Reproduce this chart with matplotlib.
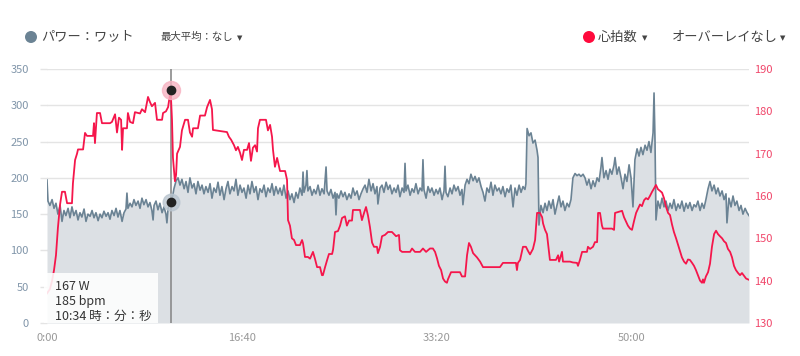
import matplotlib
matplotlib.use('Agg')
import matplotlib.pyplot as plt
from matplotlib.patches import Rectangle, Ellipse

plt.rcParams['font.family'] = ['Noto Sans CJK JP', 'DejaVu Sans']

# ==================== data (seconds / watts / bpm) ====================
power_t = [0, 5, 15, 26, 36, 46, 56, 67, 77, 87, 97, 108, 118, 128, 138, 149, 159, 169, 179, 190,
           200, 210, 221, 231, 241, 251, 262, 272, 282, 292, 303, 313, 323, 333, 344, 354, 364, 374, 385, 395,
           405, 410, 415, 426, 436, 446, 456, 467, 477, 487, 497, 508, 518, 528, 538, 544, 549, 559, 569, 579,
           590, 600, 610, 615, 621, 634, 641, 651, 662, 672, 682, 692, 703, 713, 723, 733, 744, 754, 764, 774,
           785, 795, 805, 815, 826, 836, 846, 856, 867, 877, 887, 897, 908, 918, 928, 938, 949, 959, 969, 979,
           990, 1000, 1010, 1021, 1031, 1041, 1051, 1062, 1072, 1082, 1092, 1103, 1113, 1123, 1133, 1144, 1154,
           1164, 1174, 1185, 1195, 1205, 1215, 1226, 1236, 1246, 1256, 1267, 1277, 1287, 1297, 1308, 1313, 1318,
           1328, 1333, 1338, 1349, 1359, 1369, 1379, 1390, 1400, 1410, 1421, 1431, 1436, 1446, 1456, 1467, 1477,
           1482, 1487, 1497, 1508, 1518, 1528, 1538, 1549, 1559, 1569, 1579, 1590, 1600, 1610, 1621, 1631, 1641,
           1651, 1662, 1672, 1682, 1692, 1697, 1708, 1718, 1728, 1739, 1749, 1759, 1769, 1780, 1790, 1800, 1810,
           1821, 1831, 1836, 1841, 1851, 1862, 1872, 1882, 1892, 1903, 1913, 1923, 1928, 1933, 1944, 1954, 1964,
           1974, 1985, 1995, 2005, 2015, 2026, 2036, 2041, 2046, 2056, 2067, 2077, 2087, 2097, 2108, 2118, 2128,
           2133, 2144, 2154, 2164, 2174, 2185, 2195, 2205, 2215, 2226, 2236, 2246, 2256, 2267, 2277, 2287, 2297,
           2308, 2318, 2328, 2338, 2349, 2359, 2369, 2379, 2390, 2400, 2410, 2421, 2431, 2441, 2451, 2456, 2462,
           2472, 2482, 2492, 2503, 2513, 2518, 2523, 2533, 2544, 2554, 2564, 2574, 2585, 2595, 2605, 2615, 2626,
           2636, 2646, 2656, 2667, 2677, 2687, 2697, 2708, 2718, 2728, 2738, 2749, 2759, 2769, 2779, 2790, 2800,
           2810, 2821, 2831, 2841, 2846, 2856, 2867, 2877, 2887, 2897, 2908, 2913, 2923, 2933, 2944, 2954, 2964,
           2974, 2985, 2995, 3005, 3015, 3026, 3036, 3046, 3056, 3067, 3077, 3087, 3097, 3108, 3113, 3118, 3123,
           3133, 3144, 3154, 3164, 3174, 3185, 3195, 3205, 3215, 3226, 3236, 3246, 3256, 3267, 3277, 3287, 3297,
           3308, 3318, 3328, 3338, 3349, 3359, 3369, 3379, 3390, 3400, 3410, 3421, 3431, 3441, 3451, 3462, 3472,
           3482, 3487, 3497, 3508, 3518, 3528, 3538, 3549, 3559, 3569, 3580, 3590, 3600]
power_w = [197, 168, 162, 170, 158, 165, 150, 162, 140, 155, 148, 158, 145, 160, 148, 155, 142, 152, 146, 157,
           140, 150, 147, 155, 145, 152, 141, 150, 145, 154, 147, 152, 143, 155, 148, 158, 146, 155, 140, 152,
           157, 179, 158, 165, 160, 170, 162, 168, 158, 172, 163, 170, 160, 166, 155, 142, 162, 168, 156, 165,
           152, 160, 150, 138, 158, 167, 170, 185, 196, 200, 190, 198, 185, 195, 180, 200, 186, 192, 178, 195,
           183, 190, 178, 188, 180, 192, 172, 186, 180, 194, 176, 188, 170, 185, 195, 178, 188, 182, 198, 176,
           190, 180, 186, 172, 190, 178, 195, 180, 188, 170, 185, 180, 190, 174, 186, 180, 192,
           176, 188, 178, 186, 176, 190, 172, 182, 170, 178, 166, 180, 172, 186, 176, 208, 180,
           190, 210, 182, 188, 176, 184, 178, 190, 176, 185, 178, 215, 182, 176, 184, 172, 180,
           149, 178, 172, 182, 174, 180, 170, 178, 172, 186, 176, 182, 170, 178, 185, 190, 180,
           198, 182, 192, 178, 188, 164, 186, 190, 180, 194, 184, 190, 178, 186, 180, 190, 174,
           186, 180, 220, 182, 190, 176, 185, 180, 192, 178, 186, 182, 225, 184, 172, 188, 180,
           186, 176, 184, 178, 186, 170, 182, 216, 180, 174, 186, 178, 190, 182, 188, 176, 184,
           163, 190, 198, 192, 205, 196, 202, 194, 200, 188, 180, 168, 186, 180, 194, 176, 190,
           182, 186, 178, 188, 174, 185, 180, 190, 160, 186, 176, 190, 180, 188, 184, 192, 268,
           258, 262, 248, 252, 238, 228, 135, 162, 152, 165, 155, 168, 158, 170, 150, 162, 175,
           160, 168, 155, 165, 160, 170, 200, 206, 203, 205, 202, 205, 200, 190, 198, 185, 196,
           188, 200, 195, 215, 228, 200, 210, 198, 212, 205, 218, 228, 205, 215, 200, 185, 205,
           195, 218, 200, 160, 225, 240, 230, 242, 232, 245, 238, 250, 235, 262, 317, 250, 142,
           168, 158, 172, 160, 168, 155, 165, 158, 170, 155, 164, 158, 168, 154, 165, 158, 166,
           155, 163, 160, 168, 155, 165, 158, 170, 185, 195, 182, 190, 178, 186, 175, 182, 170,
           178, 138, 172, 160, 175, 162, 168, 155, 162, 150, 158, 152, 148]

hr_t = [0, 15, 26, 36, 46, 56, 67, 77, 92, 103, 128, 133, 144, 154, 159, 185, 195, 205, 236, 241,
        246, 256, 272, 282, 323, 333, 349, 359, 369, 380, 385, 390, 410, 415, 426, 441, 451, 477, 487, 503,
        518, 528, 538, 554, 564, 590, 595, 610, 621, 634, 641, 646, 656, 662, 667, 682, 692, 708, 723, 733,
        744, 749, 774, 785, 810, 821, 836, 846, 851, 923, 933, 944, 959, 969, 979, 990, 1000, 1010, 1026, 1036,
        1046, 1056, 1067, 1077, 1082, 1092, 1123, 1133, 1144, 1154, 1159, 1169, 1180, 1190, 1195, 1221, 1231,
        1236, 1246, 1256, 1267, 1277, 1297, 1308, 1313, 1323, 1338, 1349, 1364, 1374, 1385, 1400, 1410, 1415,
        1426, 1436, 1446, 1462, 1467, 1477, 1492, 1503, 1513, 1528, 1538, 1549, 1564, 1569, 1605, 1615, 1626,
        1636, 1646, 1656, 1667, 1677, 1692, 1697, 1708, 1718, 1733, 1749, 1769, 1790, 1805, 1810, 1821, 1862,
        1872, 1887, 1913, 1928, 1944, 1964, 1979, 1990, 2000, 2010, 2021, 2031, 2041, 2051, 2056, 2072, 2118,
        2128, 2144, 2154, 2164, 2174, 2185, 2195, 2205, 2221, 2236, 2323, 2338, 2405, 2410, 2415, 2426, 2441,
        2456, 2467, 2477, 2492, 2503, 2513, 2528, 2539, 2544, 2554, 2564, 2569, 2579, 2610, 2621, 2626, 2641,
        2646, 2682, 2697, 2718, 2723, 2733, 2744, 2769, 2774, 2785, 2800, 2810, 2821, 2826, 2836, 2846, 2851,
        2897, 2908, 2913, 2949, 2959, 2969, 2979, 2990, 3000, 3010, 3021, 3031, 3041, 3051, 3062, 3072, 3082,
        3092, 3103, 3113, 3123, 3133, 3144, 3154, 3164, 3174, 3185, 3195, 3205, 3215, 3226, 3236, 3246, 3256,
        3267, 3277, 3287, 3297, 3308, 3318, 3328, 3338, 3349, 3359, 3364, 3369, 3379, 3390, 3400, 3410, 3421,
        3431, 3441, 3451, 3462, 3472, 3482, 3492, 3503, 3513, 3523, 3533, 3544, 3554, 3564, 3574, 3585, 3600]
hr_bpm = [137, 138, 140, 142.5, 146, 152.5, 158, 161, 161, 158.3, 158.3, 163, 168.5, 170, 171, 171, 174.9,
          174.2, 174.2, 177.2, 172.5, 179.6, 179.6, 177.2, 177.2, 177.5, 179.3, 175, 178.5, 178, 170.9, 176,
          176, 179.6, 177.5, 177.2, 179.8, 179.5, 180.5, 179.8, 183.4, 182.2, 181.2, 182, 178, 178, 179.6, 180,
          181, 185, 178, 169, 163.5, 165, 170, 171.6, 175.5, 178, 178, 175, 174, 176, 176, 179, 179, 181,
          182.7, 180.5, 175.6, 175.1, 174, 173.3, 172, 170.8, 171.6, 170.2, 168.5, 170.9, 170.9, 172.5, 168.3,
          171.4, 172, 170.5, 176, 178, 178, 175.5, 176.8, 174, 170.9, 166.9, 169, 166.9, 165.9, 165.9, 163.8,
          154.3, 153, 150, 149.6, 148.4, 148.4, 149.6, 148.8, 145.6, 145.6, 145.2, 146.8, 145.2, 143.2, 143.2,
          141.3, 141.3, 143.2, 144.8, 146.3, 146.3, 147.3, 151.5, 151.7, 153, 154.8, 155.2, 153, 154.2, 154.2,
          156.7, 156.7, 154.3, 156, 157.4, 155.4, 152.7, 149, 148, 148, 146.5, 148, 150.5, 150.8, 151.5, 151.5,
          150.5, 150.8, 147.2, 146.8, 146.8, 147.6, 146.8, 146.8, 147.6, 146.8, 147.6, 147.6, 146.8, 145.3,
          143.5, 142.5, 140.5, 139.8, 139.5, 140.3, 142, 142, 141, 141, 146, 148.9, 148, 146.5, 146, 145.5,
          144.5, 143.2, 143.2, 144.2, 144.2, 142.5, 144.2, 144.9, 148, 148, 147, 146.2, 147.5, 149.6, 156, 156,
          155, 153.5, 152, 151, 148.9, 144.9, 144.9, 146, 144.5, 146.8, 144.5, 144.5, 144.3, 144.2, 143.5,
          144.9, 146.8, 146.8, 148, 147.5, 148, 149.1, 149.1, 156, 156, 153, 152.3, 152.3, 152, 156, 156.5,
          155, 154, 153, 152.3, 152, 154, 156, 157, 158, 157.6, 159, 159.5, 159.2, 160, 161, 161.8, 162.6,
          161.6, 161.2, 160.8, 159.5, 157.5, 156, 155.5, 153.3, 151.5, 150, 148.5, 147, 145.5, 144.5, 144, 145,
          144.9, 144.2, 143.5, 142.5, 141.3, 140, 139.5, 140.3, 139.5, 141, 142, 144, 148, 151, 151.8, 151,
          150.5, 150, 149.3, 148.9, 147.5, 146.8, 145.5, 143.5, 142.5, 141.8, 141.3, 141.8, 141.2, 140.5, 140.2]

cursor_t = 634
cursor_w = 167
cursor_bpm = 185

x_ticks = [0, 1000, 2000, 3000]
x_labels = ['0:00', '16:40', '33:20', '50:00']
power_ticks = [0, 50, 100, 150, 200, 250, 300, 350]
hr_ticks = [130, 140, 150, 160, 170, 180, 190]

COLOR_POWER = '#6b8394'
COLOR_FILL = '#dce0e4'
COLOR_HR = '#f5164b'
COLOR_HR_DOT = '#ff0a3c'
COLOR_GRID = '#e4e4e4'
COLOR_TEXT = '#444444'

W, H = 800, 356
fig = plt.figure(figsize=(8, 3.56), dpi=100)
ax = fig.add_axes([47 / W, 1 - 323 / H, 702 / W, 254 / H])

# power series (filled area)
ax.fill_between(power_t, power_w, 0, color=COLOR_FILL, linewidth=0, zorder=1)
ax.plot(power_t, power_w, color=COLOR_POWER, linewidth=1.2, zorder=2)
ax.set_xlim(0, 3600)
ax.set_ylim(0, 350)
ax.set_yticks(power_ticks)
ax.set_xticks(x_ticks)
ax.set_xticklabels(x_labels)
ax.grid(True, axis='y', color=COLOR_GRID, linewidth=1)
ax.set_axisbelow(True)
for s in ax.spines.values():
    s.set_visible(False)
ax.tick_params(axis='y', length=5, color=COLOR_GRID, width=1, pad=8, labelsize=8, labelcolor='#8095a9')
ax.tick_params(axis='x', length=0, pad=7, labelsize=8, labelcolor='#999999')

# cursor line
ax.axvline(cursor_t, color='#8a8a8a', linewidth=1.2, zorder=3)

# heart-rate series on right axis
ax2 = ax.twinx()
ax2.plot(hr_t, hr_bpm, color=COLOR_HR, linewidth=1.3, zorder=2)
ax2.set_ylim(130, 190)
ax2.set_xlim(0, 3600)
ax2.set_yticks(hr_ticks)
for s in ax2.spines.values():
    s.set_visible(False)
ax2.tick_params(axis='y', length=0, pad=4, labelsize=8, labelcolor='#f0466a')

# hover markers
ax2.plot([cursor_t], [cursor_bpm], 'o', markersize=13, color='#f7b3c2', alpha=0.8, zorder=4, clip_on=False)
ax2.plot([cursor_t], [cursor_bpm], 'o', markersize=6, color='#222222', zorder=5, clip_on=False)
ax.plot([cursor_t], [cursor_w], 'o', markersize=12, color='#b9c5cf', alpha=0.8, zorder=4)
ax.plot([cursor_t], [cursor_w], 'o', markersize=6, color='#222222', zorder=5)

# tooltip
ax2.add_patch(Rectangle((-3 / 702, 0), 114 / 702, 50 / 254, transform=ax2.transAxes,
                        facecolor='white', edgecolor='none', alpha=0.88, zorder=6, clip_on=False))
tip = f'{cursor_w} W\n{cursor_bpm} bpm\n10:34 時：分：秒'
ax2.text(8 / 702, 43 / 254, tip, transform=ax2.transAxes, fontsize=9, color='#333333',
         va='top', ha='left', linespacing=1.2, zorder=7)

# header legend
fig.add_artist(Ellipse((31 / W, 1 - 37 / H), 12 / W, 12 / H, transform=fig.transFigure,
                       facecolor=COLOR_POWER, edgecolor='none'))
fig.add_artist(Ellipse((589 / W, 1 - 37 / H), 12 / W, 12 / H, transform=fig.transFigure,
                       facecolor=COLOR_HR_DOT, edgecolor='none'))

fig.text(41 / W, 1 - 37 / H, 'パワー：ワット', color=COLOR_TEXT, fontsize=9.5, va='center')
fig.text(160 / W, 1 - 37 / H, '最大平均：なし', color=COLOR_TEXT, fontsize=7.5, va='center')
fig.text(598 / W, 1 - 37 / H, '心拍数', color=COLOR_TEXT, fontsize=9.5, va='center')
fig.text(672 / W, 1 - 37 / H, 'オーバーレイなし', color=COLOR_TEXT, fontsize=9.5, va='center')
for x in [237, 642, 780]:
    fig.text(x / W, 1 - 38 / H, '▼', color=COLOR_TEXT, fontsize=5, va='center',
             family=['DejaVu Sans'])

fig.savefig('out.png', dpi=100, facecolor='white')
